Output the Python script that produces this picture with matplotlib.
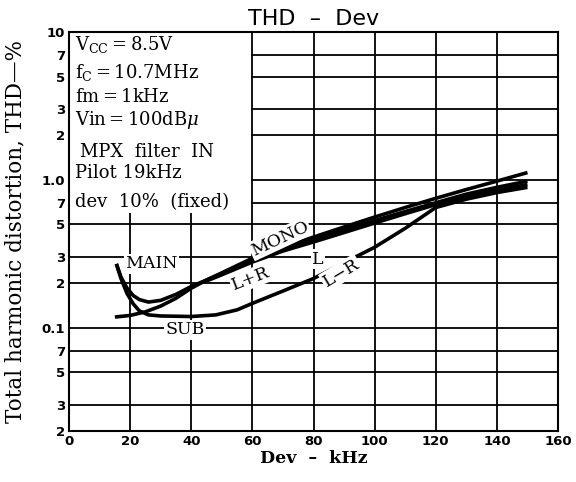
import numpy as np
import matplotlib.pyplot as plt
from matplotlib.patches import Rectangle

plt.rcParams['mathtext.fontset'] = 'dejavuserif'

# THD (%) vs deviation (kHz)
dev_mono = [15, 20, 25, 30, 35, 40, 45, 50, 60, 70, 80, 90, 100, 110, 120, 130, 140, 150]
thd_mono = [0.118, 0.121, 0.128, 0.14, 0.158, 0.185, 0.21, 0.235, 0.295, 0.35, 0.41, 0.48,
            0.56, 0.65, 0.75, 0.86, 0.98, 1.12]

dev_main = [15.5, 17, 19, 21, 23, 26, 30, 35, 40, 45, 50, 60, 70, 80, 90, 100, 110, 120, 130, 140, 150]
thd_main = [0.27, 0.22, 0.185, 0.165, 0.155, 0.149, 0.153, 0.168, 0.19, 0.21, 0.232, 0.285,
            0.34, 0.395, 0.46, 0.53, 0.61, 0.7, 0.8, 0.89, 0.98]

dev_l = [45, 50, 60, 70, 80, 90, 100, 110, 120, 130, 140, 150]
thd_l = [0.207, 0.228, 0.278, 0.33, 0.38, 0.44, 0.51, 0.59, 0.68, 0.77, 0.85, 0.93]

dev_sub = [15.5, 17, 19, 21, 23, 26, 30, 40, 48, 55, 60, 70, 80, 90, 100, 110, 120, 130, 140, 150]
thd_sub = [0.27, 0.215, 0.17, 0.145, 0.13, 0.122, 0.12, 0.119, 0.122, 0.132, 0.146, 0.177,
           0.215, 0.275, 0.35, 0.47, 0.65, 0.74, 0.82, 0.89]

x_ticks = [0, 20, 40, 60, 80, 100, 120, 140, 160]
y_ticks = [0.02, 0.03, 0.05, 0.07, 0.1, 0.2, 0.3, 0.5, 0.7, 1, 2, 3, 5, 7, 10]
y_ticklabels = ['2', '3', '5', '7', '0.1', '2', '3', '5', '7', '1.0', '2', '3', '5', '7', '10']

conditions = [
    ('V$_{\\mathrm{CC}}$$=$8.5V', 0.012, 0.955),
    ('f$_{\\mathrm{C}}$$=$10.7MHz', 0.012, 0.885),
    ('fm$=$1kHz', 0.012, 0.825),
    ('Vin$=$100dB$\\mu$', 0.012, 0.767),
    ('MPX  filter  IN', 0.022, 0.687),
    ('Pilot 19kHz', 0.012, 0.634),
    ('dev  10%  (fixed)', 0.012, 0.561),
]

fig = plt.figure(figsize=(5.76, 4.82), dpi=100)
ax = fig.add_axes([0.1198, 0.1058, 0.849, 0.8278])

ax.set_yscale('log')
ax.set_xlim(0, 160)
ax.set_ylim(0.02, 10)
ax.set_xticks(x_ticks)
ax.set_xticklabels([str(v) for v in x_ticks])
ax.set_yticks(y_ticks)
ax.set_yticklabels(y_ticklabels)
ax.minorticks_off()
ax.tick_params(length=0, pad=3, labelsize=9.5)
for lab in ax.get_xticklabels() + ax.get_yticklabels():
    lab.set_fontweight('bold')

ax.set_axisbelow(True)
ax.grid(True, color='black', lw=1.3)
for s in ax.spines.values():
    s.set_linewidth(1.5)

# blank area behind the conditions text
ax.add_patch(Rectangle((0, 0.6), 59.4, 9.4, facecolor='white', edgecolor='none', zorder=1))

kw = dict(color='black', lw=2.6, zorder=3, solid_capstyle='butt')
ax.plot(dev_mono, thd_mono, **kw)
ax.plot(dev_main, thd_main, **kw)
ax.plot(dev_l, thd_l, **kw)
ax.plot(dev_sub, thd_sub, **kw)

lab_kw = dict(family='DejaVu Serif', fontsize=12.5, ha='center', va='center', zorder=4,
              bbox=dict(facecolor='white', edgecolor='none', pad=1))
ax.text(27, 0.27, 'MAIN', **lab_kw)
ax.text(69, 0.40, 'MONO', rotation=25, **lab_kw)
ax.text(59.5, 0.215, 'L+R', rotation=21, **lab_kw)
ax.text(81.5, 0.29, 'L', **lab_kw)
ax.text(89, 0.235, 'L\u2212R', rotation=31, **lab_kw)
ax.text(38, 0.097, 'SUB', **lab_kw)

for txt, x, y in conditions:
    ax.text(x, y, txt, transform=ax.transAxes, family='DejaVu Serif', fontsize=13,
            va='baseline', ha='left', zorder=4)

ax.set_title('THD  \u2013  Dev', fontsize=16, pad=5)
ax.set_xlabel('Dev  \u2013  kHz', family='DejaVu Serif', fontsize=12.5, fontweight='bold', labelpad=1)
ax.set_ylabel('Total harmonic distortion, THD\u2014%', family='DejaVu Serif', fontsize=15.5, labelpad=11)

fig.savefig('out.png', dpi=100)
